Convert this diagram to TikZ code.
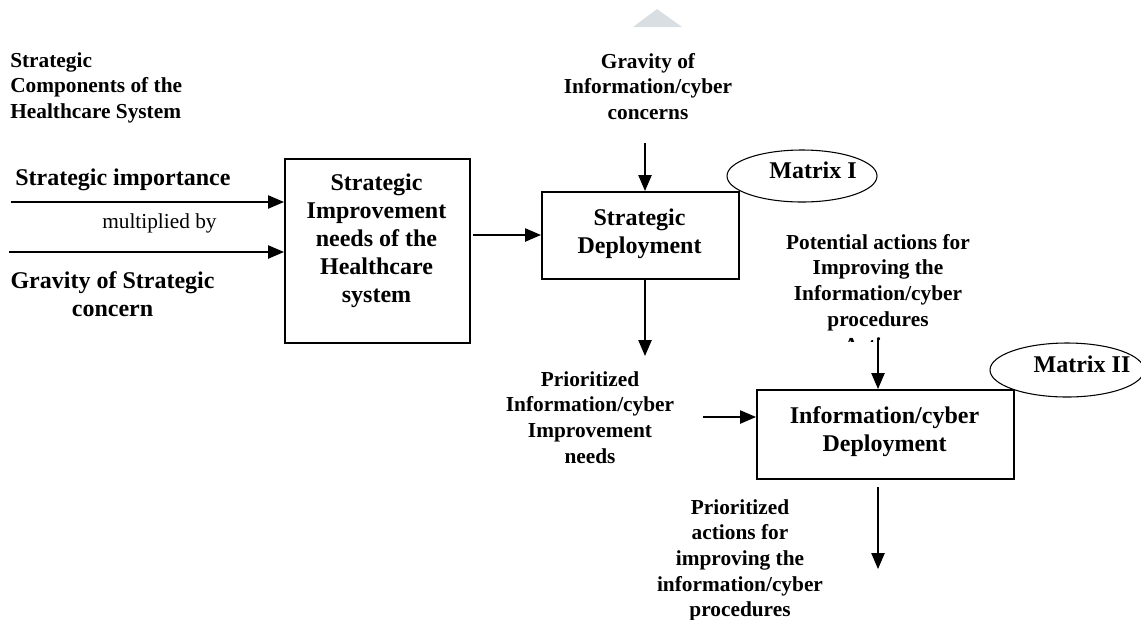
\documentclass[tikz,border=0pt]{standalone}
\usepackage{fontspec}
\setmainfont{Liberation Serif}
\usetikzlibrary{arrows.meta,shapes.geometric}
\newcommand{\mlines}[2]{\begin{tabular}[t]{@{}#1@{}}#2\end{tabular}}
\definecolor{wmark}{HTML}{D9DEE3}
\begin{document}
\begin{tikzpicture}[x=0.75pt,y=-0.75pt,
  boxnode/.style={draw, line width=1.3pt, inner sep=0pt, anchor=north west},
  ovalnode/.style={draw, ellipse, line width=0.8pt, inner sep=0pt},
  arr/.style={line width=1pt, -{Triangle[length=12pt,width=10pt]}},
  big/.style={font=\fontsize{18}{21}\selectfont\bfseries, inner sep=0pt},
  small/.style={font=\fontsize{16}{19.3}\selectfont\bfseries, inner sep=0pt},
  plain/.style={font=\fontsize{16}{19.3}\selectfont, inner sep=0pt}]
\useasboundingbox (0,0) rectangle (1141,619);
% watermark
\fill[wmark] (633,27) -- (682,27) -- (657,9) -- cycle;

% boxes
\node[boxnode, minimum width=138.75pt, minimum height=138pt] (sib) at (284,158) {};
\node[boxnode, minimum width=147.75pt, minimum height=65.25pt] (sd) at (541,191) {};
\node[boxnode, minimum width=192.75pt, minimum height=66.75pt] (icd) at (756,389) {};

% box texts
\node[big, anchor=base] (sibt) at (376.5,190) {\mlines{c}{Strategic\\Improvement\\needs of the\\Healthcare\\system}};
\node[big, anchor=base] (sdt) at (639.5,225) {\mlines{c}{Strategic\\Deployment}};
\node[big, anchor=base] (icdt) at (884.5,423) {\mlines{c}{Information/cyber\\Deployment}};

% ellipses
\node[ovalnode, minimum width=112.5pt, minimum height=39pt] (m1) at (802,176) {};
\node[big, anchor=base] (m1t) at (813,178) {Matrix I};
\node[ovalnode, minimum width=115.5pt, minimum height=40.5pt] (m2) at (1067,370) {};
\node[big, anchor=base] (m2t) at (1082,372) {Matrix II};

% free labels
\node[small, anchor=base west] (comp) at (10,67) {\mlines{l}{Strategic\\Components of the\\Healthcare System}};
\node[big, anchor=base west] (imp) at (15,185) {Strategic importance};
\node[plain, anchor=base west] (mult) at (102,228) {multiplied by};
\node[big, anchor=base] (grav) at (112.5,288) {\mlines{c}{Gravity of Strategic\\concern}};
\node[small, anchor=base] (gic) at (648,68) {\mlines{c}{Gravity of\\Information/cyber\\concerns}};
\node[small, anchor=base] (pa) at (878,249) {\mlines{c}{Potential actions for\\Improving the\\Information/cyber\\procedures}};
\begin{scope}
\clip (800,330) rectangle (960,341);
\node[small, anchor=base] (pacut) at (878,352) {Actions};
\end{scope}
\node[small, anchor=base] (pin) at (590,386) {\mlines{c}{Prioritized\\Information/cyber\\Improvement\\needs}};
\node[small, anchor=base] (pact) at (740,514) {\mlines{c}{Prioritized\\actions for\\improving the\\information/cyber\\procedures}};

% free connector ends
\coordinate (a1s) at (11,202);
\coordinate (a2s) at (9,252);
\coordinate (a3s) at (473,235);
\coordinate (a4s) at (645,143);
\coordinate (a5e) at (645,356);
\coordinate (a6s) at (703,417);
\coordinate (a7s) at (878,338);
\coordinate (a8s) at (878,487);
\coordinate (a8e) at (878,569);

% connectors
\draw[arr] (a1s) -- (sib.west |- a1s);
\draw[arr] (a2s) -- (sib.west |- a2s);
\draw[arr] (a3s) -- (sd.west |- a3s);
\draw[arr] (a4s) -- (a4s |- sd.north);
\draw[arr] (a5e |- sd.south) -- (a5e);
\draw[arr] (a6s) -- (icd.west |- a6s);
\draw[arr] (a7s) -- (a7s |- icd.north);
\draw[arr] (a8s) -- (a8e);
\end{tikzpicture}
\end{document}
